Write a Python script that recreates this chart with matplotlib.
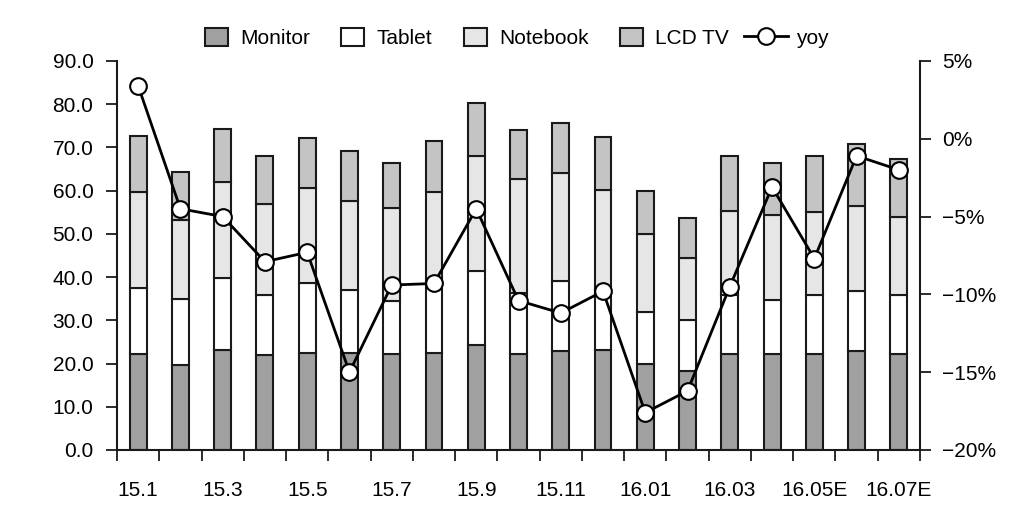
import matplotlib
matplotlib.use('Agg')
import matplotlib.pyplot as plt
from matplotlib.ticker import FuncFormatter, FixedLocator
from matplotlib.legend_handler import HandlerLine2D
import numpy as np

plt.rcParams['font.family'] = ['Liberation Sans Narrow', 'Liberation Sans', 'DejaVu Sans']

months = ['15.1', '15.2', '15.3', '15.4', '15.5', '15.6', '15.7', '15.8', '15.9', '15.10',
          '15.11', '15.12', '16.01', '16.02', '16.03', '16.04', '16.05E', '16.06E', '16.07E']
monitor = [22.1, 19.7, 23.2, 22.0, 22.5, 22.5, 22.2, 22.4, 24.3, 22.1,
           22.8, 23.2, 19.8, 18.2, 22.3, 22.3, 22.3, 22.9, 22.3]
tablet = [15.3, 15.3, 16.6, 13.9, 16.1, 14.4, 12.2, 16.2, 17.0, 14.3,
          16.3, 13.8, 12.1, 11.8, 13.5, 12.3, 13.5, 13.8, 13.5]
notebook = [22.2, 18.3, 22.1, 21.0, 21.9, 20.8, 21.5, 21.0, 26.8, 26.2,
            24.9, 23.2, 18.0, 14.4, 19.4, 19.8, 19.3, 19.8, 18.1]
lcd_tv = [13.0, 11.0, 12.4, 11.0, 11.7, 11.5, 10.6, 11.8, 12.2, 11.4,
          11.7, 12.1, 10.1, 9.3, 12.8, 12.1, 13.0, 14.2, 13.5]
yoy = [3.4, -4.5, -5.0, -7.9, -7.3, -15.0, -9.4, -9.3, -4.5, -10.4,
       -11.2, -9.8, -17.6, -16.2, -9.5, -3.1, -7.7, -1.1, -2.0]

x = np.arange(len(months))
edge = '#1a1a1a'
fs = 15

fig = plt.figure(figsize=(10.23, 5.12), dpi=100)
ax = fig.add_axes([0.1144, 0.1211, 0.7849, 0.7599])

series = [(monitor, '#a0a0a0', 'Monitor'), (tablet, '#ffffff', 'Tablet'),
          (notebook, '#e6e6e6', 'Notebook'), (lcd_tv, '#c4c4c4', 'LCD TV')]
bottom = np.zeros(len(x))
handles = []
for vals, col, name in series:
    b = ax.bar(x, vals, width=0.4, bottom=bottom, color=col, edgecolor=edge,
               linewidth=1.5, label=name, zorder=2)
    handles.append(b)
    bottom += np.array(vals)

ax.set_xlim(-0.5, len(x) - 0.5)
ax.set_ylim(0, 90)
ax.set_yticks(np.arange(0, 91, 10))
ax.yaxis.set_major_formatter(FuncFormatter(lambda v, p: f'{v:.1f}'))

ax.xaxis.set_major_locator(FixedLocator(np.arange(-0.5, len(x), 1)))
ax.xaxis.set_major_formatter(FuncFormatter(lambda v, p: ''))
ax.xaxis.set_minor_locator(FixedLocator(x[::2]))
ax.set_xticklabels([months[i] for i in x[::2]], minor=True)
ax.tick_params(axis='x', which='major', length=8, width=1.3, color=edge)
ax.tick_params(axis='x', which='minor', length=0, pad=22, labelsize=fs)
ax.tick_params(axis='y', length=8, width=1.3, color=edge, pad=9, labelsize=fs)

for s in ['top', 'right']:
    ax.spines[s].set_visible(False)
for s in ['left', 'bottom']:
    ax.spines[s].set_linewidth(1.5)
    ax.spines[s].set_color(edge)

ax2 = ax.twinx()
ax2.set_ylim(-20, 5)
ax2.set_yticks(np.arange(-20, 6, 5))
ax2.yaxis.set_major_formatter(FuncFormatter(lambda v, p: f'{int(v)}%'.replace('-', '\u2212')))
ax2.tick_params(axis='y', length=8, width=1.3, color=edge, pad=8, labelsize=fs)
for s in ['top', 'left', 'bottom']:
    ax2.spines[s].set_visible(False)
ax2.spines['right'].set_linewidth(1.5)
ax2.spines['right'].set_color(edge)

ln, = ax2.plot(x, yoy, color='black', linewidth=2, marker='o', markersize=12,
               markerfacecolor='white', markeredgecolor='black', markeredgewidth=1.5,
               label='yoy', zorder=3)
handles.append(ln)


# the yoy handle is wider than the squares: let it reach left into the column gap
class WideLine(HandlerLine2D):
    def create_artists(self, legend, orig_handle, xdescent, ydescent, width, height, fontsize, trans):
        return super().create_artists(legend, orig_handle, xdescent + width * 0.7, ydescent,
                                      width * 1.9, height, fontsize, trans)


fig.legend(handles=handles, labels=['Monitor', 'Tablet', 'Notebook', 'LCD TV', 'yoy'],
           loc='center', bbox_to_anchor=(0.505, 0.926), ncol=5, frameon=False,
           fontsize=fs, handlelength=1.1, handleheight=1.0, columnspacing=1.5,
           handletextpad=0.6, handler_map={ln: WideLine(numpoints=1)})

fig.savefig('out.png', dpi=100)
